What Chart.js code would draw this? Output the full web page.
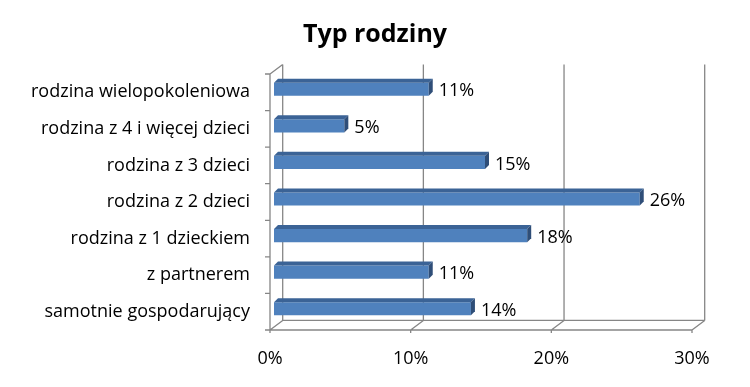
<!DOCTYPE html>
<html>
<head>
<meta charset="utf-8">
<script src="https://cdn.jsdelivr.net/npm/chart.js@4"></script>
<style>
  body { margin: 0; background: #fff; }
  canvas { display: block; }
</style>
</head>
<body>
<canvas id="chart" width="750" height="387"></canvas>
<script>
const categories = [
  'rodzina wielopokoleniowa',
  'rodzina z 4 i więcej dzieci',
  'rodzina z 3 dzieci',
  'rodzina z 2 dzieci',
  'rodzina z 1 dzieckiem',
  'z partnerem',
  'samotnie gospodarujący'
];
const shares = [0.11, 0.05, 0.15, 0.26, 0.18, 0.11, 0.14];
const shareLabels = ['11%', '5%', '15%', '26%', '18%', '11%', '14%'];
const xTicks = [0, 0.1, 0.2, 0.3];

const FONT = '"Open Sans", Lato, sans-serif';
// depth of the 3d box: bars sit a bit behind the front plane
const front = { x: -4, y: 3 };
const back = { x: 8.7, y: -6.6 };
const barDepth = 4;

// draws the floor, side wall and back wall lines
const boxPlugin = {
  id: 'box3d',
  beforeDatasetsDraw(chart) {
    const { ctx, chartArea, scales } = chart;
    const xs = scales.x;
    const top = chartArea.top, bottom = chartArea.bottom;
    ctx.save();
    ctx.strokeStyle = '#868686';
    ctx.lineWidth = 1.3;
    ctx.beginPath();
    xTicks.forEach(v => {
      const px = xs.getPixelForValue(v);
      // back wall vertical
      ctx.moveTo(px + back.x, top + back.y);
      ctx.lineTo(px + back.x, bottom + back.y);
      // floor diagonal
      ctx.moveTo(px + back.x, bottom + back.y);
      ctx.lineTo(px + front.x, bottom + front.y);
      // small tick below front axis
      ctx.moveTo(px + front.x, bottom + front.y);
      ctx.lineTo(px + front.x, bottom + front.y + 3);
    });
    const x0 = xs.getPixelForValue(0), x1 = xs.getPixelForValue(0.3);
    // floor front + back edges
    ctx.moveTo(x0 + front.x, bottom + front.y);
    ctx.lineTo(x1 + front.x, bottom + front.y);
    ctx.moveTo(x0 + back.x, bottom + back.y);
    ctx.lineTo(x1 + back.x, bottom + back.y);
    // left wall front edge and top diagonal
    ctx.moveTo(x0 + front.x, top + front.y);
    ctx.lineTo(x0 + front.x, bottom + front.y);
    ctx.moveTo(x0 + front.x, top + front.y);
    ctx.lineTo(x0 + back.x, top + back.y);
    // category ticks on left wall
    const step = (bottom - top) / categories.length;
    for (let i = 0; i <= categories.length; i++) {
      const y = top + step * i + front.y;
      ctx.moveTo(x0 + front.x - 5, y);
      ctx.lineTo(x0 + front.x, y);
    }
    ctx.stroke();
    ctx.restore();
  },
  afterDatasetsDraw(chart) {
    const { ctx } = chart;
    const meta = chart.getDatasetMeta(0);
    ctx.save();
    meta.data.forEach((bar, i) => {
      const left = bar.base, right = bar.x;
      const t = bar.y - bar.height / 2, b = bar.y + bar.height / 2;
      // top face
      ctx.fillStyle = '#3B6396';
      ctx.beginPath();
      ctx.moveTo(left, t);
      ctx.lineTo(left + barDepth, t - barDepth);
      ctx.lineTo(right + barDepth, t - barDepth);
      ctx.lineTo(right, t);
      ctx.closePath();
      ctx.fill();
      // end face
      ctx.fillStyle = '#2F4E78';
      ctx.beginPath();
      ctx.moveTo(right, t);
      ctx.lineTo(right + barDepth, t - barDepth);
      ctx.lineTo(right + barDepth, b - barDepth);
      ctx.lineTo(right, b);
      ctx.closePath();
      ctx.fill();
      // value label
      ctx.fillStyle = '#000';
      ctx.font = '18px ' + FONT;
      ctx.textBaseline = 'middle';
      ctx.textAlign = 'left';
      ctx.fillText(shareLabels[i], right + barDepth + 6, bar.y + 2);
    });
    ctx.restore();
  }
};

new Chart(document.getElementById('chart'), {
  type: 'bar',
  data: {
    labels: categories,
    datasets: [{
      data: shares,
      backgroundColor: '#4F81BD',
      borderWidth: 0,
      categoryPercentage: 1,
      barPercentage: 0.36
    }]
  },
  options: {
    indexAxis: 'y',
    responsive: false,
    animation: false,
    layout: { padding: 0 },
    plugins: {
      legend: { display: false },
      tooltip: { enabled: false },
      title: {
        display: true,
        text: 'Typ rodziny',
        color: '#000',
        font: { family: FONT, size: 25, weight: 'bold', lineHeight: 1.2 },
        padding: { top: 20, bottom: 21 }
      }
    },
    scales: {
      x: {
        min: 0,
        max: 0.3,
        afterBuildTicks(scale) {
          scale.ticks = xTicks.map(v => ({ value: v }));
        },
        afterFit(scale) { scale.height = 60; },
        grid: { display: false, drawTicks: false },
        border: { display: false },
        ticks: {
          color: '#000',
          font: { family: FONT, size: 18 },
          padding: 21,
          labelOffset: -4,
          maxRotation: 0,
          callback: v => Math.round(v * 100) + '%'
        }
      },
      y: {
        afterFit(scale) { scale.width = 274; },
        grid: { display: false, drawTicks: false },
        border: { display: false },
        ticks: {
          color: '#000',
          font: { family: FONT, size: 18 },
          padding: 24,
          labelOffset: 3
        }
      },
      // empty right axis keeps the gap on the right while title stays centred
      yRight: {
        type: 'category',
        position: 'right',
        afterFit(scale) { scale.width = 54; },
        grid: { display: false, drawTicks: false },
        border: { display: false },
        ticks: { display: false }
      }
    }
  },
  plugins: [boxPlugin]
});
</script>
</body>
</html>
